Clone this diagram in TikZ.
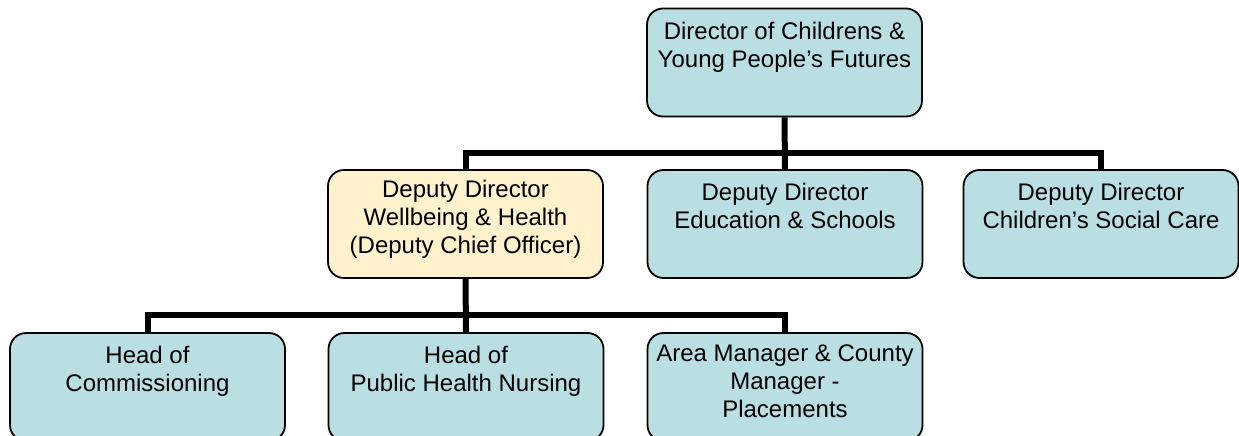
\documentclass[tikz,border=0pt]{standalone}
\usepackage{fontspec}
\setmainfont{Liberation Sans}
\definecolor{boxblue}{RGB}{185,223,227}
\definecolor{boxyellow}{RGB}{255,242,204}
\begin{document}
\begin{tikzpicture}[x=1pt,y=1pt,
  box/.style={draw=black, line width=1.8pt, rounded corners=16pt, fill=boxblue,
    minimum width=275pt, minimum height=108pt, inner sep=0pt},
  ybox/.style={box, fill=boxyellow},
  txt/.style={anchor=north, align=center, inner sep=0pt,
    font=\fontsize{24}{28}\selectfont},
  conn/.style={line width=6pt, black}]
\useasboundingbox (0,0) rectangle (1239,-436);
% level 1
\node[box] (top) at (784.5,-62.5) {};
% level 2
\node[ybox] (d1) at (465.5,-224) {};
\node[box] (d2) at (785,-224) {};
\node[box] (d3) at (1101,-224) {};
% level 3
\node[box] (h1) at (147.5,-387) {};
\node[box] (h2) at (466,-387) {};
\node[box] (h3) at (785,-387) {};
\coordinate (bus1) at (0,-153);
\coordinate (bus2) at (0,-315);
% connectors
\draw[conn] (top.south) -- (d2.north);
\draw[conn] (d1.north) |- (d3.north |- bus1) -- (d3.north);
\draw[conn] (d1.south) -- (h2.north);
\draw[conn] (h1.north) |- (h3.north |- bus2) -- (h3.north);
% texts
\node[txt] at ([yshift=-14pt]top.north) {Director of Childrens \&\\Young People’s Futures};
\node[txt] at ([yshift=-11pt]d1.north) {Deputy Director\\Wellbeing \& Health\\(Deputy Chief Officer)};
\node[txt] at ([yshift=-14pt]d2.north) {Deputy Director\\Education \& Schools};
\node[txt] at ([yshift=-14pt]d3.north) {Deputy Director\\Children’s Social Care};
\node[txt] at ([yshift=-14pt]h1.north) {Head of\\Commissioning};
\node[txt] at ([yshift=-14pt]h2.north) {Head of\\Public Health Nursing};
\node[txt] at ([yshift=-12pt]h3.north) {Area Manager \& County\\Manager -\\Placements};
\end{tikzpicture}
\end{document}
